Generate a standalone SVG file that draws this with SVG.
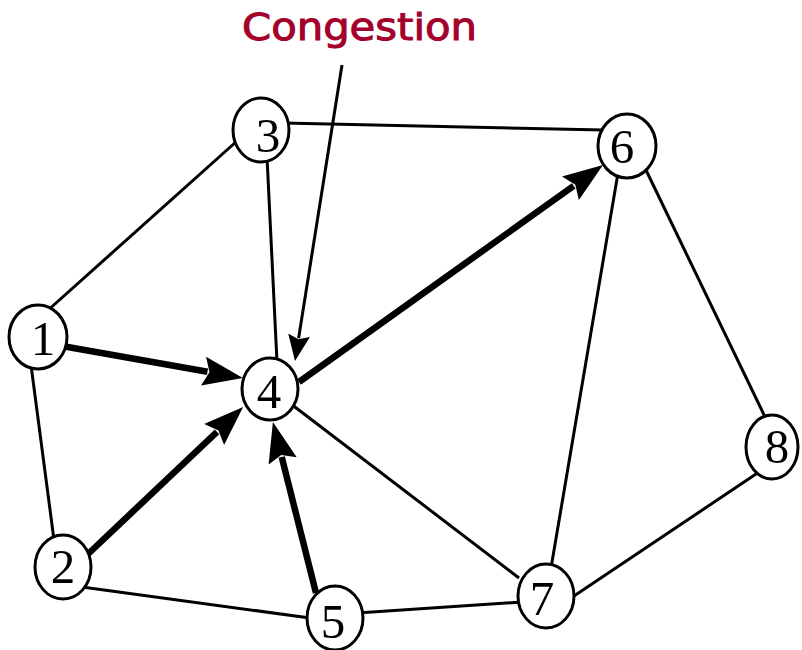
<svg xmlns="http://www.w3.org/2000/svg" width="802" height="650" viewBox="0 0 802 650">
<style>
.edge{stroke:#000;stroke-width:3;fill:none}
.flow{stroke:#000;stroke-width:6.5;fill:none;marker-end:url(#bigHead)}
.ptr{stroke:#000;stroke-width:3;fill:none;marker-end:url(#smallHead)}
.node ellipse{fill:#fff;stroke:#000;stroke-width:3}
.node text{font-family:"Liberation Serif","Times New Roman",serif;font-size:49px;text-anchor:middle;fill:#000}
.label{font-family:"DejaVu Sans","Liberation Sans",sans-serif;font-size:38px;fill:#A3002B;stroke:#A3002B;stroke-width:1}
</style>
<defs>
<marker id="bigHead" markerUnits="userSpaceOnUse" viewBox="0 -16 42 32" refX="4" refY="0" markerWidth="42" markerHeight="32" orient="auto">
<path d="M40,0 L0,-14.5 L6,0 L0,14.5 Z" fill="#000"/>
</marker>
<marker id="smallHead" markerUnits="userSpaceOnUse" viewBox="0 -12 28 24" refX="3" refY="0" markerWidth="28" markerHeight="24" orient="auto">
<path d="M26,0 L0,-11 L4,0 L0,11 Z" fill="#000"/>
</marker>
</defs>
<rect width="802" height="650" fill="#fff"/>
<text class="label" x="242" y="40" textLength="235" lengthAdjust="spacingAndGlyphs">Congestion</text>
<g id="connectors">
<line class="edge" x1="46" y1="312" x2="237" y2="141"/>
<line class="edge" x1="31" y1="365" x2="54" y2="540"/>
<line class="edge" x1="267" y1="157" x2="277" y2="362"/>
<line class="edge" x1="283" y1="123" x2="603" y2="130"/>
<line class="edge" x1="618" y1="173" x2="551" y2="568"/>
<line class="edge" x1="645" y1="168" x2="767" y2="421"/>
<line class="edge" x1="291" y1="404" x2="519" y2="578"/>
<line class="edge" x1="574" y1="596" x2="762" y2="470"/>
<line class="edge" x1="82" y1="587" x2="310" y2="618"/>
<line class="edge" x1="357" y1="613" x2="522" y2="602"/>
<line class="flow" x1="62" y1="346" x2="207.5" y2="371.8"/>
<line class="flow" x1="87" y1="555" x2="217" y2="431.8"/>
<line class="flow" x1="316" y1="593" x2="281.7" y2="457"/>
<line class="flow" x1="299" y1="382" x2="573.7" y2="185.9"/>
<line class="ptr" x1="342" y1="65" x2="298.6" y2="338.3"/>
</g>
<g id="node1" class="node"><ellipse cx="38" cy="337" rx="29" ry="32"/><text x="43" y="355">1</text></g>
<g id="node2" class="node"><ellipse cx="63" cy="567" rx="28" ry="32"/><text x="63" y="583">2</text></g>
<g id="node3" class="node"><ellipse cx="261" cy="130" rx="28" ry="32"/><text x="268" y="152">3</text></g>
<g id="node4" class="node"><ellipse cx="270" cy="389" rx="28" ry="31"/><text x="269" y="408">4</text></g>
<g id="node5" class="node"><ellipse cx="335" cy="618" rx="28" ry="32"/><text x="333" y="638">5</text></g>
<g id="node6" class="node"><ellipse cx="627" cy="146" rx="29" ry="32"/><text x="622" y="163">6</text></g>
<g id="node7" class="node"><ellipse cx="546" cy="596" rx="28" ry="32"/><text x="542" y="615">7</text></g>
<g id="node8" class="node"><ellipse cx="772" cy="447" rx="26" ry="32"/><text x="777" y="463">8</text></g>
</svg>
